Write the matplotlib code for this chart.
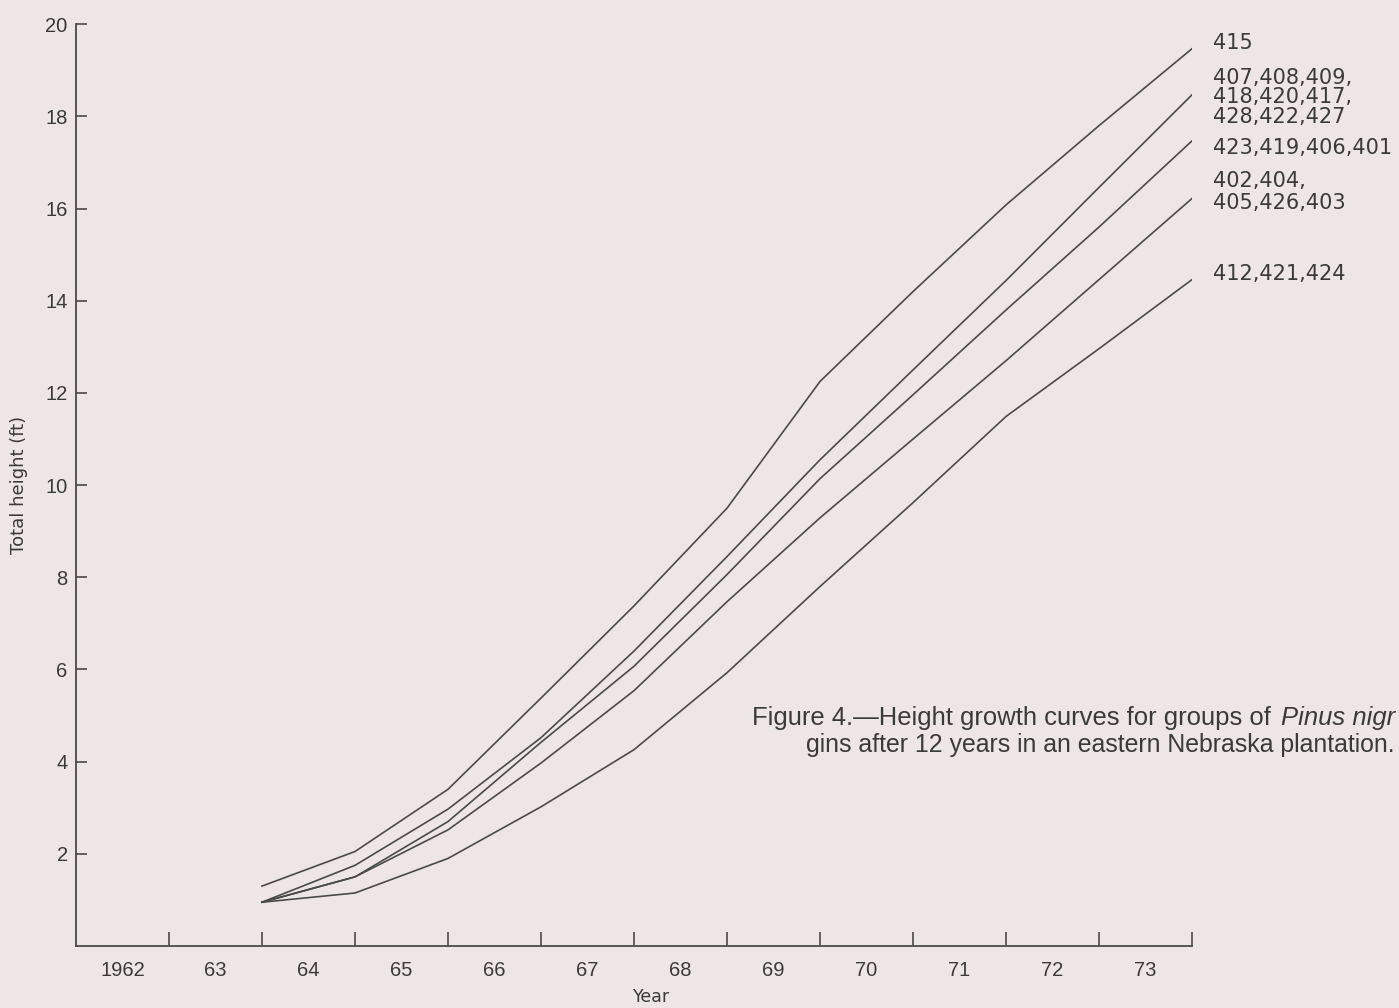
"""Height growth curves for Pinus nigra origin groups (Nebraska plantation)."""

import numpy as np
import matplotlib
matplotlib.use('Agg')
import matplotlib.pyplot as plt

# Data
years = [1964, 1965, 1966, 1967, 1968, 1969, 1970, 1971, 1972, 1973, 1974]
h_415 = [1.3, 2.05, 3.4, 5.38, 7.38, 9.5, 12.25, 14.2, 16.08, 17.8, 19.47]
h_407 = [0.95, 1.75, 2.97, 4.52, 6.4, 8.45, 10.55, 12.5, 14.44, 16.46, 18.47]
h_423 = [0.95, 1.5, 2.7, 4.42, 6.07, 8.06, 10.14, 11.96, 13.8, 15.6, 17.47]
h_402 = [0.95, 1.5, 2.52, 3.97, 5.54, 7.47, 9.29, 11.0, 12.7, 14.46, 16.22]
h_412 = [0.95, 1.15, 1.9, 3.02, 4.26, 5.93, 7.8, 9.62, 11.49, 12.96, 14.46]

groups = [
    '415',
    '407,408,409,\n418,420,417,\n428,422,427',
    '423,419,406,401',
    '402,404,\n405,426,403',
    '412,421,424',
]
group_label_y = [19.59, 18.41, 17.31, 16.36, 14.59]
group_spacing = [1.0, 0.94, 1.0, 1.1, 1.0]

year_labels = ['1962', '63', '64', '65', '66', '67', '68', '69', '70', '71', '72', '73']

bg = '#ede6e4'
ink = '#4a4a4a'
txt = '#3a3a3a'

fig = plt.figure(figsize=(13.99, 10.08), dpi=100, facecolor=bg)
ax = fig.add_axes([0.0543, 0.0615, 0.7978, 0.9145], facecolor=bg)

for h in [h_415, h_407, h_423, h_402, h_412]:
    ax.plot(years, h, color=ink, lw=1.2, solid_joinstyle='miter')

for lab, y, sp in zip(groups, group_label_y, group_spacing):
    ax.text(1974.23, y, lab, fontsize=15, color=txt, va='center',
            ha='left', linespacing=sp, clip_on=False)

ax.set_xlim(1962, 1974)
ax.set_ylim(0, 20)

for s in ['top', 'right']:
    ax.spines[s].set_visible(False)
for s in ['left', 'bottom']:
    ax.spines[s].set_color(ink)
    ax.spines[s].set_linewidth(1.3)

ax.set_yticks(np.arange(2, 21, 2))
ax.set_yticklabels([str(v) for v in range(2, 21, 2)], family='Liberation Sans')
ax.tick_params(axis='y', direction='in', length=8, width=1.2, color=ink,
               labelsize=14.5, labelcolor=txt, pad=6)

ax.set_xticks(np.arange(1963, 1975))
ax.set_xticklabels([])
ax.set_xticks(np.arange(1962, 1974) + 0.5, minor=True)
ax.set_xticklabels(year_labels, minor=True, family='Liberation Sans')
ax.tick_params(axis='x', which='major', direction='in', length=10, width=1.2,
               color=ink)
ax.tick_params(axis='x', which='minor', length=0, labelsize=14.5,
               labelcolor=txt, pad=11)

ax.set_xlabel('Year', fontsize=12.5, color=txt)
ax.set_ylabel('Total height (ft)', fontsize=13, color=txt)
ax.yaxis.set_label_coords(-0.043, 0.5)
ax.xaxis.set_label_coords(0.516, -0.046)

# Caption, cut at the right edge like the scanned page
cap = dict(color=txt, family='Liberation Sans', va='center', ha='left')
line2 = fig.text(806 / 1399, 1 - 745 / 1008,
                 'gins after 12 years in an eastern Nebraska plantation.',
                 fontsize=15, **cap)
fig.canvas.draw()
r = fig.canvas.get_renderer()
w = line2.get_window_extent(r).width
line2.set_fontsize(15 * 591 / w)
fs = line2.get_fontsize()

line1 = fig.text(752 / 1399, 1 - 718 / 1008,
                 'Figure 4.\u2014Height growth curves for groups of ',
                 fontsize=fs * 1.03, **cap)
fig.canvas.draw()
x1 = line1.get_window_extent(r).x1
fig.text(x1 / 1399 + 0.002, 1 - 718 / 1008, 'Pinus nigr', fontsize=fs * 1.03,
         style='italic', **cap)

fig.savefig('out.png', dpi=100, facecolor=bg)
